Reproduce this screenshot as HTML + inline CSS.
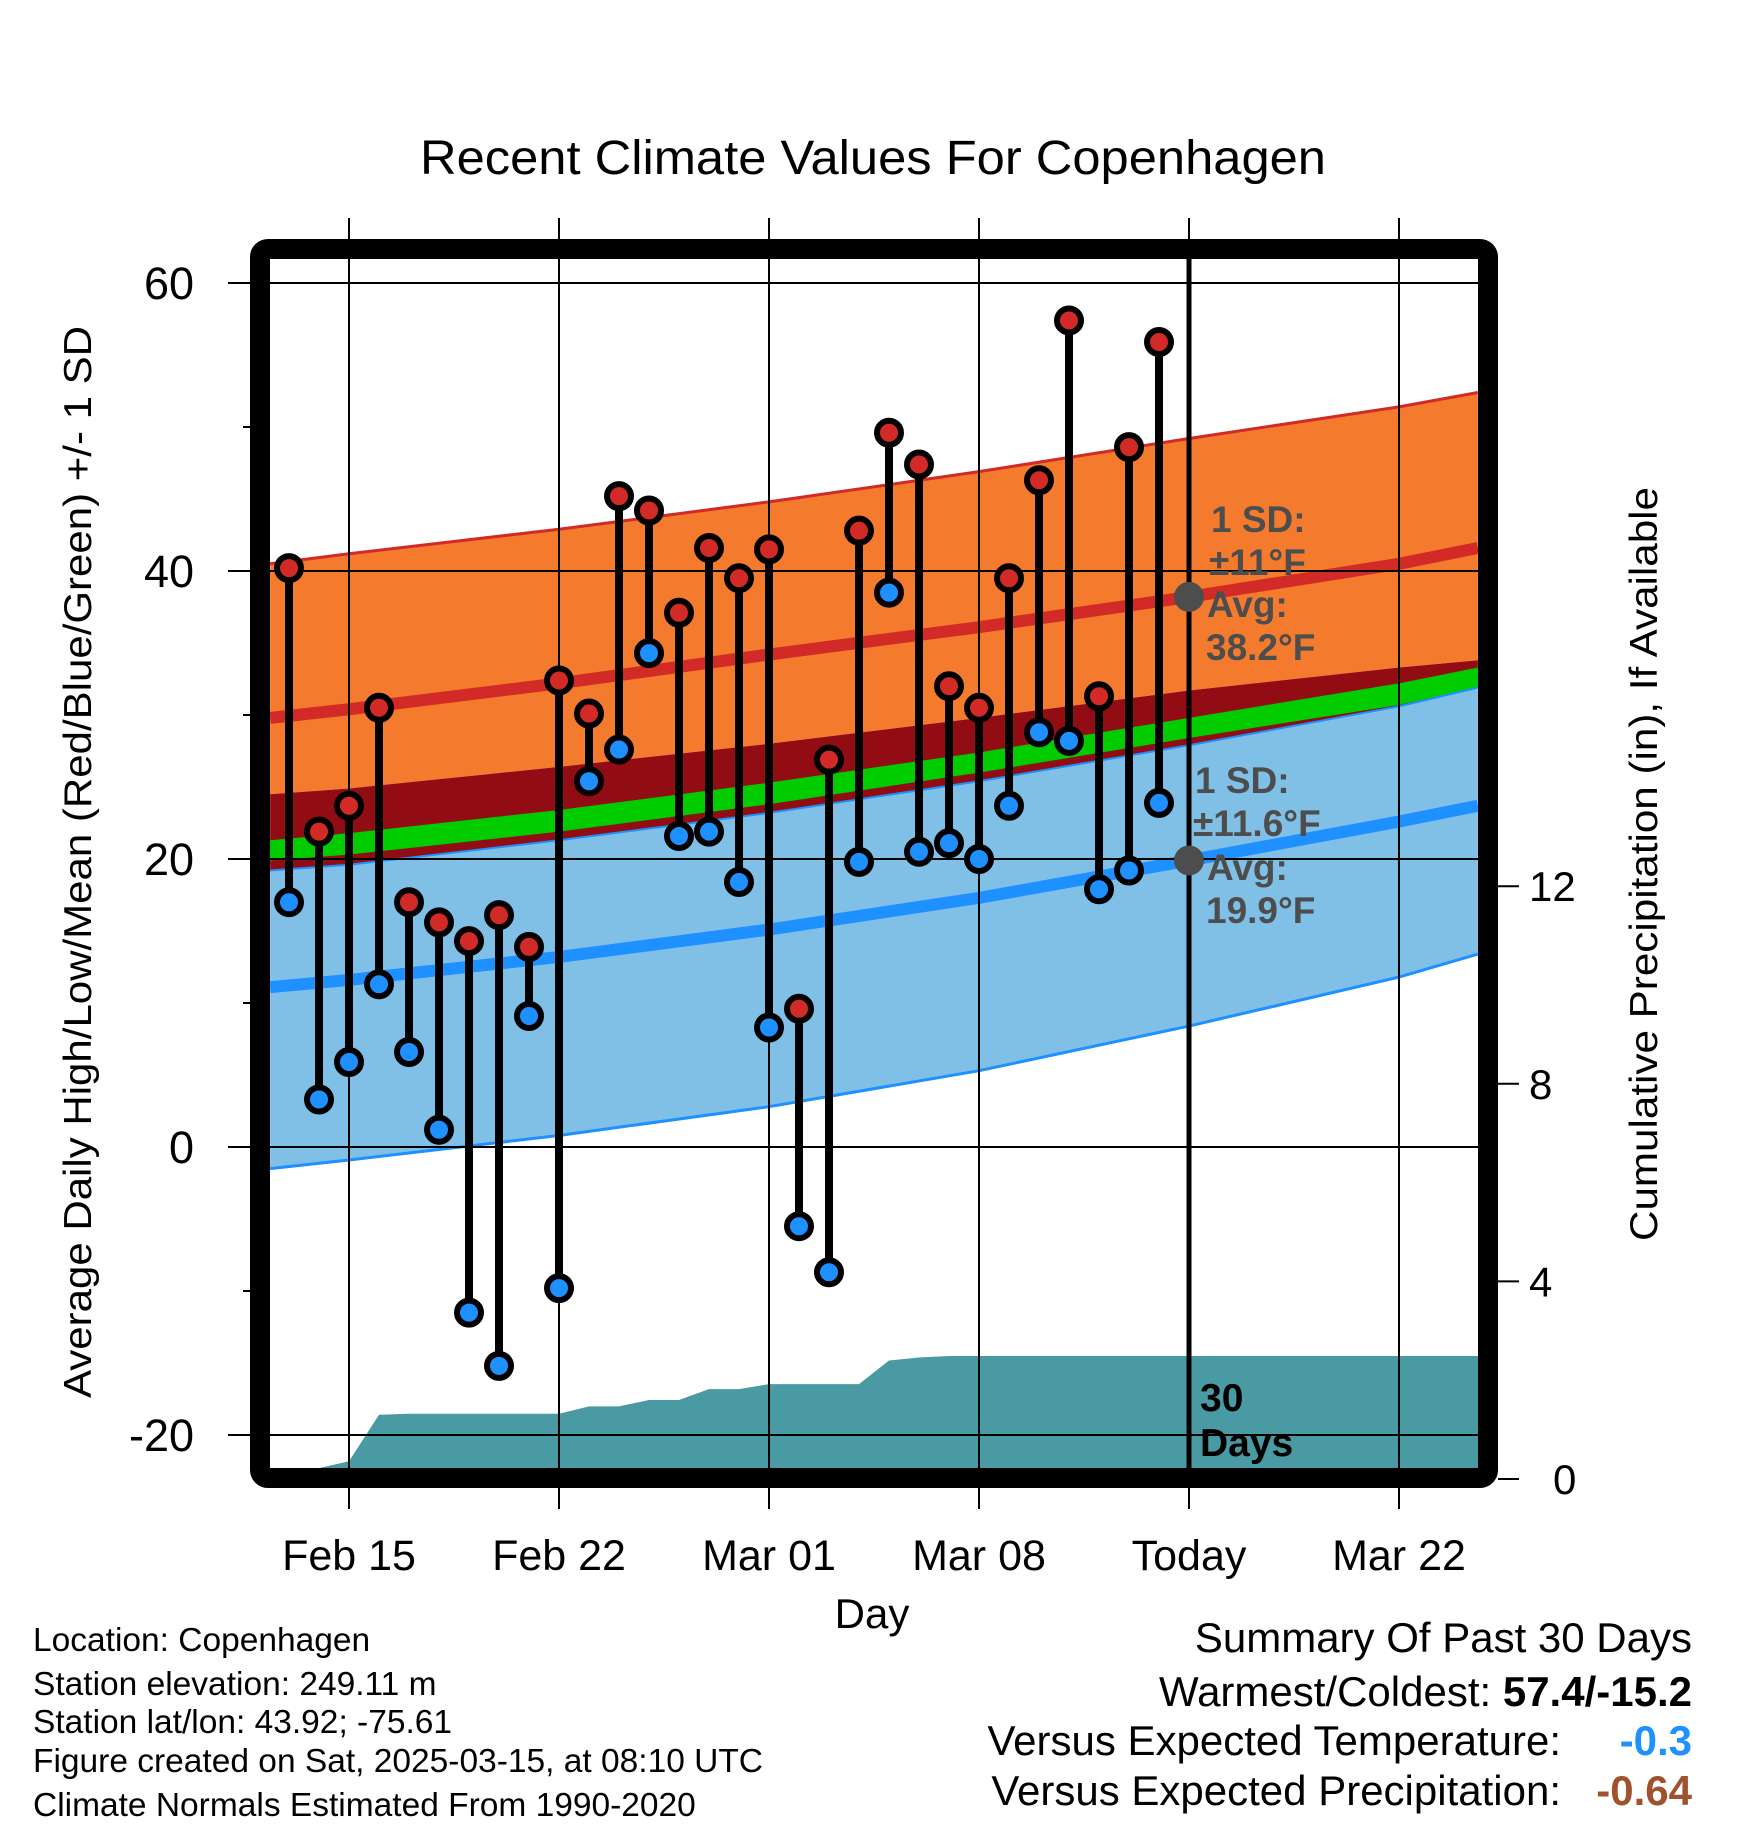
<!DOCTYPE html>
<html><head><meta charset="utf-8"><style>
html,body{margin:0;padding:0;background:#fff}
svg{display:block;font-family:"Liberation Sans",sans-serif}
</style></head><body>
<svg id="chart" width="1748" height="1828" viewBox="0 0 1748 1828" xmlns="http://www.w3.org/2000/svg">
<defs><clipPath id="plotClip"><rect x="270" y="260" width="1208" height="1208"/></clipPath></defs>
<text x="873" y="174" font-size="48" text-anchor="middle" textLength="906" lengthAdjust="spacingAndGlyphs">Recent Climate Values For Copenhagen</text>
<g id="bands" clip-path="url(#plotClip)"></g>
<g id="grid"></g>
<g id="marks" clip-path="url(#plotClip)"></g>
<rect x="260" y="249" width="1228" height="1229" rx="8" fill="none" stroke="#000" stroke-width="20"/>
<g id="axes"></g>
<g fill="#4d4d4d" font-weight="bold" font-size="37">
<text x="1211" y="532">1 SD:</text>
<text x="1209" y="575">±11°F</text>
<text x="1207" y="617">Avg:</text>
<text x="1206" y="660">38.2°F</text>
<text x="1195" y="793">1 SD:</text>
<text x="1193" y="836">±11.6°F</text>
<text x="1207" y="880">Avg:</text>
<text x="1206" y="923">19.9°F</text>
</g>
<g font-weight="bold" font-size="39" fill="#000">
<text x="1200" y="1411">30</text>
<text x="1200" y="1456">Days</text>
</g>
<text transform="translate(91,862) rotate(-90)" font-size="39" text-anchor="middle" textLength="1072" lengthAdjust="spacingAndGlyphs">Average Daily High/Low/Mean (Red/Blue/Green) +/- 1 SD</text>
<text transform="translate(1657,864) rotate(-90)" font-size="39" text-anchor="middle" textLength="754" lengthAdjust="spacingAndGlyphs">Cumulative Precipitation (in), If Available</text>
<text x="872" y="1628" font-size="42" text-anchor="middle">Day</text>
<g font-size="33.5">
<text x="33" y="1651">Location: Copenhagen</text>
<text x="33" y="1695">Station elevation: 249.11 m</text>
<text x="33" y="1733">Station lat/lon: 43.92; -75.61</text>
<text x="33" y="1772">Figure created on Sat, 2025-03-15, at 08:10 UTC</text>
<text x="33" y="1816">Climate Normals Estimated From 1990-2020</text>
</g>
<g font-size="42" text-anchor="end">
<text x="1692" y="1652">Summary Of Past 30 Days</text>
<text x="1692" y="1706">Warmest/Coldest: <tspan font-weight="bold">57.4/-15.2</tspan></text>
<text x="1561" y="1755">Versus Expected Temperature:</text>
<text x="1692" y="1755" fill="#1e90ff" font-weight="bold">-0.3</text>
<text x="1561" y="1805">Versus Expected Precipitation:</text>
<text x="1692" y="1805" fill="#a0522d" font-weight="bold">-0.64</text>
</g>
</svg>
<script>
const NS="http://www.w3.org/2000/svg";
// day offsets relative to Feb 15
const normDays=[-2.63,0,7,14,21,28,35,37.63];
const highUpper=[40.5,41.2,42.9,44.8,46.9,49.2,51.4,52.4];
const highAvg=[29.8,30.4,32.2,34.2,36.1,38.2,40.5,41.6];
const highLower=[24.5,24.9,26.4,28.0,29.8,31.7,33.3,33.8];
const greenTop=[21.3,21.8,23.4,25.3,27.4,29.8,32.2,33.3];
const greenBot=[19.9,20.3,21.9,23.8,26.0,28.4,30.7,31.9];
const lowUpper=[19.2,19.6,21.3,23.2,25.4,27.9,30.6,31.9];
const lowAvg=[11.1,11.6,13.2,15.1,17.3,19.9,22.6,23.7];
const lowLower=[-1.5,-0.9,0.8,2.8,5.3,8.4,11.8,13.4];
const obsDays=[-2,-1,0,1,2,3,4,5,6,7,8,9,10,11,12,13,14,15,16,17,18,19,20,21,22,23,24,25,26,27];
const highs=[40.2,21.9,23.7,30.5,17.0,15.6,14.3,16.1,13.9,32.4,30.1,45.2,44.2,37.1,41.6,39.5,41.5,9.6,26.9,42.8,49.6,47.4,32.0,30.5,39.5,46.3,57.4,31.3,48.6,55.9];
const lows=[17.0,3.3,5.9,11.3,6.6,1.2,-11.5,-15.2,9.1,-9.8,25.4,27.6,34.3,21.6,21.9,18.4,8.3,-5.5,-8.7,19.8,38.5,20.5,21.1,20.0,23.7,28.8,28.2,17.9,19.2,23.9];
const precip=[0.2,0.22,0.36,1.3,1.32,1.32,1.32,1.32,1.32,1.32,1.47,1.47,1.6,1.6,1.82,1.82,1.92,1.92,1.92,1.92,2.4,2.46,2.49,2.49,2.49,2.49,2.49,2.49,2.49,2.49];
const xTickDays=[0,7,14,21,28,35];
const xTickLabels=["Feb 15","Feb 22","Mar 01","Mar 08","Today","Mar 22"];
const yTicks=[60,40,20,0,-20];
const yMinor=[50,30,10,-10];
const pTicks=[0,4,8,12];
const todayDay=28, todayHigh=38.2, todayLow=19.9;

const X=d=>349+30*d;
const Y=v=>1147-14.4*v;
const P=v=>1479-49.4*v;
const L=270,R=1478,T=260,B=1468;

function el(tag,attrs,parent){const e=document.createElementNS(NS,tag);for(const k in attrs)e.setAttribute(k,attrs[k]);parent.appendChild(e);return e;}
const bands=document.getElementById('bands'),grid=document.getElementById('grid'),marks=document.getElementById('marks'),axes=document.getElementById('axes');
function band(top,bot,color,name){
  let d='M'+normDays.map((t,i)=>X(t)+','+Y(top[i])).join(' L');
  for(let i=normDays.length-1;i>=0;i--)d+=' L'+X(normDays[i])+','+Y(bot[i]);
  const p=el('path',{d:d+'Z',fill:color},bands);
  
  
}
function line(vals,color,w,name){
  const p=el('path',{d:'M'+normDays.map((t,i)=>X(t)+','+Y(vals[i])).join(' L'),fill:'none',stroke:color,'stroke-width':w},bands);
  
  
}
band(highUpper,highLower,'#f47a2e','high-sd-band');
band(highLower,lowUpper,'#920c13','overlap-band');
band(greenTop,greenBot,'#00cc00','mean-band');
band(lowUpper,lowLower,'#80c0e6','low-sd-band');
line(highUpper,'#d22a26',3,'high-upper-line');
line(lowUpper,'#1e90ff',2,'low-upper-line');
line(lowLower,'#1e90ff',3,'low-lower-line');
line(highAvg,'#d22a26',12,'high-avg-line');
line(lowAvg,'#1e90ff',12,'low-avg-line');
// precip
let pd='M'+L+','+B+' L'+L+','+P(precip[0]);
obsDays.forEach((d,i)=>{pd+=' L'+X(d)+','+P(precip[i]);});
pd+=' L'+R+','+P(precip[precip.length-1])+' L'+R+','+B+'Z';
const pp=el('path',{d:pd,fill:'#4a9aa3'},bands);


// grid
yTicks.forEach(v=>{const g=el('line',{x1:228,x2:R,y1:Y(v),y2:Y(v),stroke:'#000','stroke-width':2},grid);

});
xTickDays.forEach(d=>{const g=el('line',{x1:X(d),x2:X(d),y1:218,y2:1509,stroke:'#000','stroke-width':2},grid);

});
yMinor.forEach(v=>{const g=el('line',{x1:243,x2:252,y1:Y(v),y2:Y(v),stroke:'#000','stroke-width':2},grid);

});
const tl=el('line',{x1:X(todayDay),x2:X(todayDay),y1:250,y2:1478,stroke:'#000','stroke-width':5},grid);


// stems
obsDays.forEach((d,i)=>{
  const s=el('line',{x1:X(d),x2:X(d),y1:Y(highs[i]),y2:Y(lows[i]),stroke:'#000','stroke-width':8},marks);
  
  
});
obsDays.forEach((d,i)=>{
  const h=el('circle',{cx:X(d),cy:Y(highs[i]),r:12,fill:'#d22a26',stroke:'#000','stroke-width':6},marks);
  
  
  const l=el('circle',{cx:X(d),cy:Y(lows[i]),r:12,fill:'#1e90ff',stroke:'#000','stroke-width':6},marks);
  
  
});
[todayHigh,todayLow].forEach(v=>{const c=el('circle',{cx:X(todayDay),cy:Y(v),r:15,fill:'#4d4d4d'},marks);

});
// axis labels
yTicks.forEach(v=>{const t=el('text',{x:194,y:Y(v)+16,'font-size':45,'text-anchor':'end'},axes);t.textContent=v;

});
xTickDays.forEach((d,i)=>{const t=el('text',{x:X(d),y:1570,'font-size':43,'text-anchor':'middle'},axes);t.textContent=xTickLabels[i];

});
pTicks.forEach(v=>{const k=el('line',{x1:1498,x2:1519,y1:P(v),y2:P(v),stroke:'#000','stroke-width':2},axes);


const t=el('text',{x:v===0?1553:1529,y:P(v)+15,'font-size':42},axes);t.textContent=v;

});
</script>
</body></html>
